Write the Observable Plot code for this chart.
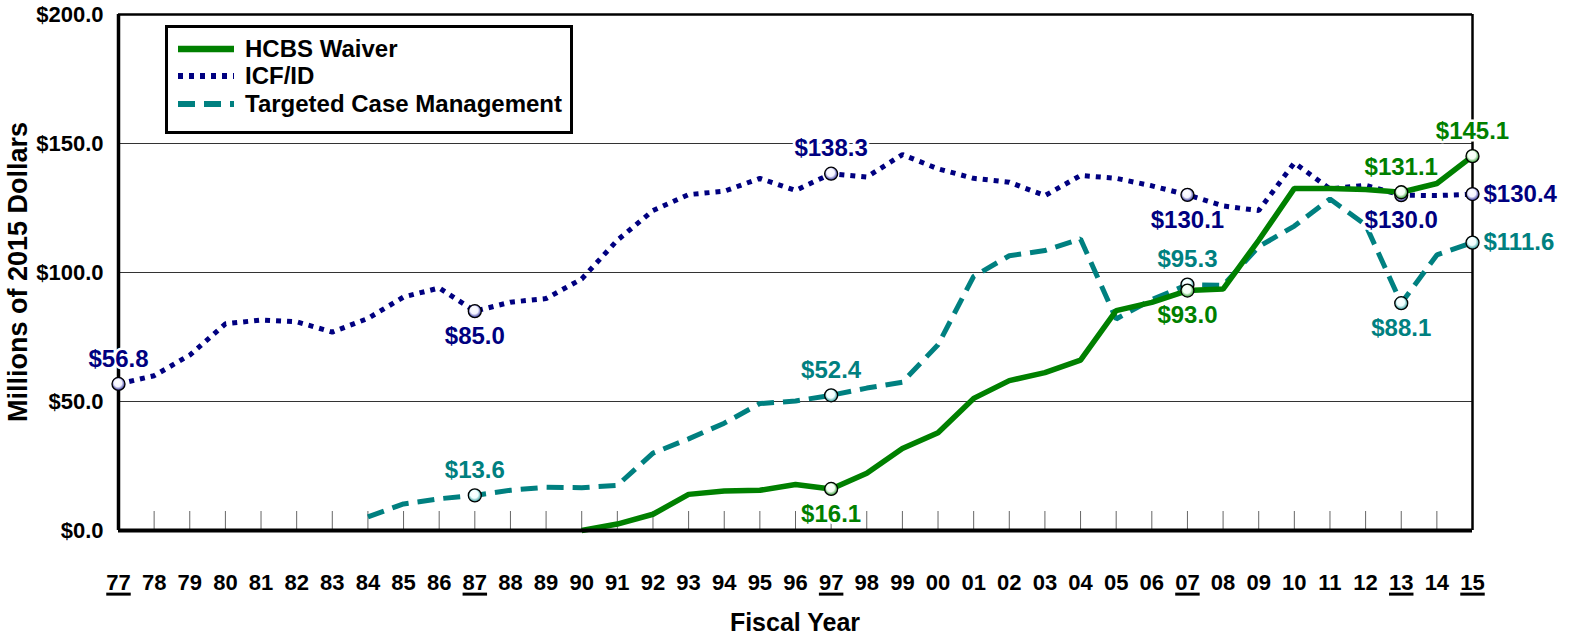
<!DOCTYPE html>
<html>
<head>
<meta charset="utf-8">
<script src="https://cdn.jsdelivr.net/npm/d3@7"></script>
<script src="https://cdn.jsdelivr.net/npm/@observablehq/plot@0.6"></script>
<style>
  html, body { margin: 0; padding: 0; background: #fff; }
  #wrap { position: relative; width: 1573px; height: 639px; font-family: "Liberation Sans", Arial, sans-serif; }
  #legend { position: absolute; left: 165px; top: 25px; width: 408px; height: 109px; box-sizing: border-box;
            border: 3px solid #000; background: #fff; padding: 7px 0 0 9px; }
  .row { display: flex; align-items: center; height: 27.5px; font-weight: bold; font-size: 24px; color: #000; }
  .row svg { margin-right: 10px; }
</style>
</head>
<body>
<svg width="0" height="0" style="position:absolute">
  <defs>
    <radialGradient id="g-green" cx="50%" cy="50%" r="55%" fx="40%" fy="30%">
      <stop offset="0%" stop-color="#fff"/><stop offset="55%" stop-color="#f4fff4"/><stop offset="100%" stop-color="#008000"/>
    </radialGradient>
    <radialGradient id="g-navy" cx="50%" cy="50%" r="55%" fx="40%" fy="30%">
      <stop offset="0%" stop-color="#fff"/><stop offset="55%" stop-color="#f4f4ff"/><stop offset="100%" stop-color="#000080"/>
    </radialGradient>
    <radialGradient id="g-teal" cx="50%" cy="50%" r="55%" fx="40%" fy="30%">
      <stop offset="0%" stop-color="#fff"/><stop offset="55%" stop-color="#f0ffff"/><stop offset="100%" stop-color="#008080"/>
    </radialGradient>
  </defs>
</svg>
<div id="wrap">
  <div id="chart"></div>
  <div id="legend"></div>
</div>
<script>
// ---- data ----
const years = [1977,1978,1979,1980,1981,1982,1983,1984,1985,1986,1987,1988,1989,1990,1991,1992,1993,1994,1995,1996,
               1997,1998,1999,2000,2001,2002,2003,2004,2005,2006,2007,2008,2009,2010,2011,2012,2013,2014,2015];
const seriesNames = ["HCBS Waiver", "ICF/ID", "Targeted Case Management"];
const hcbsValues = [null,null,null,null,null,null,null,null,null,null,null,null,null,
  0, 2.5, 6.3, 14.0, 15.3, 15.6, 17.8, 16.1, 22.2, 31.8, 37.9, 51.2, 58.1, 61.2, 66.0, 85.2, 88.4,
  93.0, 93.6, 112.5, 132.6, 132.6, 132.2, 131.1, 134.5, 145.1];
const icfValues = [56.8, 60.0, 68.0, 80.1, 81.6, 80.9, 76.9, 82.2, 90.5, 94.0,
  85.0, 88.5, 89.9, 97.5, 112.5, 124.0, 130.2, 131.5, 136.5, 131.8,
  138.3, 137.0, 145.7, 140.2, 136.5, 135.0, 129.8, 137.6, 136.5, 133.6,
  130.1, 125.8, 124.0, 142.5, 132.4, 133.8, 130.0, 129.8, 130.4];
const tcmValues = [null,null,null,null,null,null,null,
  5.3, 10.3, 12.3, 13.6, 15.6, 16.8, 16.6, 17.5, 30.0, 35.5, 41.6, 49.2, 50.2,
  52.4, 55.2, 57.5, 72.0, 98.5, 106.5, 108.5, 113.0, 82.0, 89.5,
  95.3, 95.0, 110.0, 118.0, 128.5, 118.5, 88.1, 106.8, 111.6];
const yTicks = [0, 50, 100, 150, 200];
const underlinedYears = [1977, 1987, 1997, 2007, 2013, 2015];
const xTitle = "Fiscal Year";
const yTitle = "Millions of 2015 Dollars";
// labelled points: series, year, placement
const labelSeries = ["ICF/ID","ICF/ID","ICF/ID","ICF/ID","ICF/ID","ICF/ID",
  "HCBS Waiver","HCBS Waiver","HCBS Waiver","HCBS Waiver",
  "Targeted Case Management","Targeted Case Management","Targeted Case Management","Targeted Case Management","Targeted Case Management"];
const labelYears = [1977,1987,1997,2007,2013,2015, 1997,2007,2013,2015, 1987,1997,2007,2013,2015];
const labelPlaces = ["above","below","above","below","below","right", "below","below","above","above", "above","above","above","below","right"];

// ---- styles ----
const colors = {"HCBS Waiver": "#008000", "ICF/ID": "#000080", "Targeted Case Management": "#008080"};
const grads = {"HCBS Waiver": "url(#g-green)", "ICF/ID": "url(#g-navy)", "Targeted Case Management": "url(#g-teal)"};
const dashes = {"HCBS Waiver": null, "ICF/ID": "5,6", "Targeted Case Management": "17,9"};
const widths = {"HCBS Waiver": 5.5, "ICF/ID": 5, "Targeted Case Management": 5};

const valuesBy = {"HCBS Waiver": hcbsValues, "ICF/ID": icfValues, "Targeted Case Management": tcmValues};
const rows = seriesNames.flatMap(s => years.map((y, i) => ({series: s, year: y, value: valuesBy[s][i]})))
  .filter(d => d.value != null);
const labels = labelYears.map((y, i) => ({
  series: labelSeries[i], year: y, place: labelPlaces[i],
  value: valuesBy[labelSeries[i]][years.indexOf(y)]
}));

const drawOrder = ["Targeted Case Management", "ICF/ID", "HCBS Waiver"];
const font = "Liberation Sans, Arial, sans-serif";

const lineMarks = drawOrder.map(s => Plot.line(rows.filter(d => d.series === s), {
  x: "year", y: "value", stroke: colors[s], strokeWidth: widths[s],
  strokeDasharray: dashes[s], strokeLinecap: "butt", strokeLinejoin: "miter"
}));
const dotMarks = drawOrder.map(s => Plot.dot(labels.filter(d => d.series === s), {
  x: "year", y: "value", r: 6.5, fill: grads[s], stroke: "#000", strokeWidth: 1.3
}));
const labelMark = (place, opts) => Plot.text(labels.filter(d => d.place === place), {
  x: "year", y: "value", text: d => "$" + d.value.toFixed(1),
  fill: d => colors[d.series], stroke: "#fff", strokeWidth: 5,
  fontSize: 24, fontWeight: "bold", fontFamily: font, ...opts
});

const chart = Plot.plot({
  width: 1573, height: 639,
  marginLeft: 118, marginRight: 101, marginTop: 14, marginBottom: 109,
  style: {fontFamily: font, background: "#fff", overflow: "visible"},
  x: {domain: [1977, 2015], label: null},
  y: {domain: [0, 200], label: null},
  marks: [
    Plot.ruleY([50, 100, 150], {stroke: "#333", strokeWidth: 1}),
    Plot.tickX(years.slice(1, -1), {x: d => d, insetTop: 497, stroke: "#666", strokeWidth: 1}),
    ...lineMarks,
    Plot.ruleY([0], {stroke: "#000", strokeWidth: 4}),
    Plot.ruleY([200], {stroke: "#000", strokeWidth: 2.5}),
    Plot.ruleX([1977], {stroke: "#000", strokeWidth: 3.5}),
    Plot.ruleX([2015], {stroke: "#000", strokeWidth: 2.5}),
    labelMark("above", {dy: -25}),
    labelMark("below", {dy: 25}),
    labelMark("right", {dx: 11, textAnchor: "start"}),
    ...dotMarks,
    Plot.axisY({ticks: yTicks, tickFormat: d => "$" + d.toFixed(1), tickSize: 0, tickPadding: 15,
      fontSize: 22, fontWeight: "bold", fontFamily: font, label: null}),
    Plot.axisX({ticks: years, tickFormat: d => String(d).slice(2), tickSize: 0, tickPadding: 44,
      fontSize: 22, fontWeight: "bold", fontFamily: font, label: null})
  ]
});
document.getElementById("chart").appendChild(chart);

const svg = d3.select(chart);
const xr = chart.scale("x").range, yr = chart.scale("y").range;
// axis titles
svg.append("text").attr("x", (xr[0] + xr[1]) / 2).attr("y", yr[0] + 92)
  .attr("text-anchor", "middle").attr("dominant-baseline", "central")
  .attr("font-size", 25).attr("font-weight", "bold").attr("fill", "#000").text(xTitle);
svg.append("text").attr("transform", `translate(${xr[0] - 100},${(yr[0] + yr[1]) / 2}) rotate(-90)`)
  .attr("text-anchor", "middle").attr("dominant-baseline", "central")
  .attr("font-size", 27).attr("font-weight", "bold").attr("fill", "#000").text(yTitle);

// underline selected fiscal-year tick labels
const under = new Set(underlinedYears.map(y => String(y).slice(2)));
svg.selectAll('g[aria-label="x-axis tick label"] text').each(function() {
  if (under.has(this.textContent)) {
    const b = this.getBBox();
    const m = this.getCTM();
    const p1 = svg.node().createSVGPoint(); p1.x = b.x; p1.y = b.y + b.height - 1;
    const p2 = svg.node().createSVGPoint(); p2.x = b.x + b.width; p2.y = p1.y;
    const a = p1.matrixTransform(m), c = p2.matrixTransform(m);
    const ctm0 = chart.getScreenCTM ? null : null;
    svg.append("line").attr("x1", a.x).attr("x2", c.x).attr("y1", a.y).attr("y2", c.y)
      .attr("stroke", "#000").attr("stroke-width", 3);
  }
});

// legend
const legend = d3.select("#legend");
seriesNames.forEach(s => {
  const row = legend.append("div").attr("class", "row");
  const sv = row.append("svg").attr("width", 58).attr("height", 14);
  sv.append("line").attr("x1", 1).attr("x2", 57).attr("y1", 7).attr("y2", 7)
    .attr("stroke", colors[s]).attr("stroke-width", widths[s] + 1)
    .attr("stroke-dasharray", dashes[s]);
  row.append("span").text(s);
});
</script>
</body>
</html>
